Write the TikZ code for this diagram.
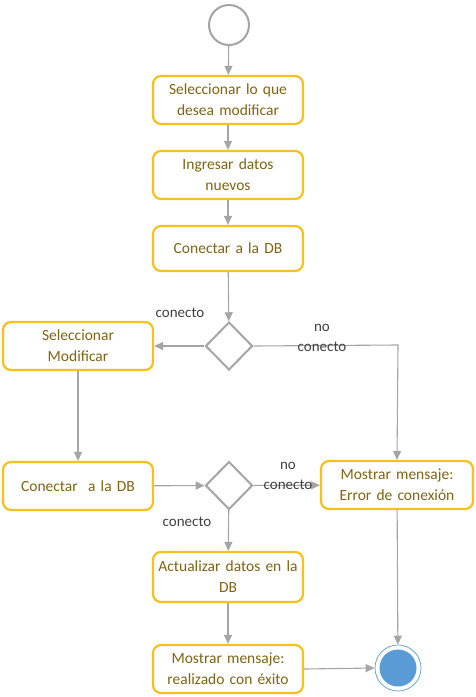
\documentclass[tikz,border=0pt]{standalone}
\usepackage{fontspec}
\setmainfont{Carlito}
\usetikzlibrary{shapes.geometric,arrows.meta}
\definecolor{boxline}{RGB}{247,192,30}
\definecolor{boxtext}{RGB}{128,100,20}
\definecolor{conn}{RGB}{165,165,165}
\definecolor{lbl}{RGB}{64,64,64}
\definecolor{endblue}{RGB}{91,155,213}
\tikzset{
  actbox/.style={draw=boxline, line width=2.2pt, rounded corners=8pt, fill=white,
    minimum width=150pt, minimum height=48pt, text width=145pt, align=center,
    font=\fontsize{15.5}{21}\selectfont, text=boxtext, inner sep=0pt},
  decis/.style={draw=conn, line width=2pt, diamond, minimum width=47pt, minimum height=48pt, inner sep=0pt, fill=white},
  flow/.style={draw=conn, line width=1.1pt, -{Triangle[length=9pt,width=8pt]}},
  lab/.style={font=\fontsize{15}{20}\selectfont, text=lbl, align=center, inner sep=0pt}
}
\begin{document}
\begin{tikzpicture}[x=1pt,y=-1pt]
\useasboundingbox (0,0) rectangle (475,697);
\node[circle, draw=conn, line width=2pt, minimum size=40pt, inner sep=0pt] (start) at (229,25) {};
\node[actbox] (b1) at (228,100) {Seleccionar lo que\\desea modificar};
\node[actbox] (b2) at (228,175) {Ingresar datos\\nuevos};
\node[actbox, minimum height=45pt] (b3) at (228,248.5) {Conectar a la DB};
\node[decis] (d1) at (229,346) {};
\node[actbox] (b4) at (78,346) {Seleccionar\\Modificar};
\node[actbox] (b5) at (78,486) {Conectar\ \ a la DB};
\node[decis] (d2) at (229,485.5) {};
\node[actbox, minimum width=152pt] (b6) at (397,485) {Mostrar mensaje:\\Error de conexión};
\node[actbox, minimum height=50pt] (b7) at (228,577) {Actualizar datos en la\\DB};
\node[actbox] (b8) at (228,669) {Mostrar mensaje:\\realizado con éxito};
\node[circle, draw=endblue, line width=0.7pt, minimum size=46pt, inner sep=0pt] (endc) at (398,668) {};
\node[circle, fill=endblue, minimum size=37pt, inner sep=0pt] (endi) at (398,668) {};
\coordinate (c1) at (398,345);

\draw[flow] (start) -- (b1);
\draw[flow] (b1) -- (b2);
\draw[flow] (b2) -- (b3);
\draw[flow] (b3) -- (d1);
\draw[flow] (d1) -- (b4);
\draw[flow] (b4) -- (b5);
\draw[flow] (b5) -- (d2);
\draw[flow] (d2) -- (b6);
\draw[flow] (d2) -- (b7);
\draw[flow] (b7) -- (b8);
\draw[flow] (d1.east) -- (c1) -- (b6.north);
\draw[flow] (b6) -- (endc);
\draw[flow] (b8.east) -- (endc.west);

\node[lab] (l1) at (180,313) {conecto};
\node[lab] (l2) at (322,338) {no\\conecto};
\node[lab] (l3) at (288,476) {no\\conecto};
\node[lab] (l4) at (187,522) {conecto};
\end{tikzpicture}
\end{document}
